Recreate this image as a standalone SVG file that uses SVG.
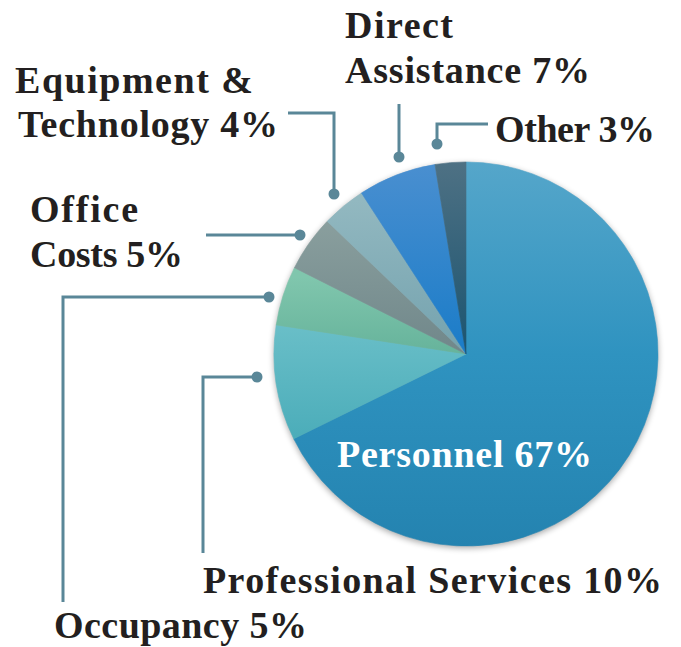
<svg xmlns="http://www.w3.org/2000/svg" width="681" height="647" viewBox="0 0 681 647">
<defs>
<filter id="shadow" x="-20%" y="-20%" width="140%" height="140%">
<feGaussianBlur stdDeviation="3"/>
</filter>
<linearGradient id="gPers" gradientUnits="userSpaceOnUse" x1="0" y1="162" x2="0" y2="546"><stop offset="0" stop-color="#55a6ca"/><stop offset="0.5" stop-color="#2f93c0"/><stop offset="1" stop-color="#2483b0"/></linearGradient>
<linearGradient id="gProf" gradientUnits="userSpaceOnUse" x1="0" y1="162" x2="0" y2="546"><stop offset="0.4" stop-color="#6cc0c9"/><stop offset="0.75" stop-color="#48abb8"/></linearGradient>
<linearGradient id="gOcc" gradientUnits="userSpaceOnUse" x1="0" y1="162" x2="0" y2="546"><stop offset="0.3" stop-color="#80c6ad"/><stop offset="0.5" stop-color="#66b39b"/></linearGradient>
<linearGradient id="gOff" gradientUnits="userSpaceOnUse" x1="0" y1="162" x2="0" y2="546"><stop offset="0.15" stop-color="#8a9f9e"/><stop offset="0.5" stop-color="#70878a"/></linearGradient>
<linearGradient id="gEq" gradientUnits="userSpaceOnUse" x1="0" y1="162" x2="0" y2="546"><stop offset="0.1" stop-color="#92b8c0"/><stop offset="0.5" stop-color="#74a2ae"/></linearGradient>
<linearGradient id="gDir" gradientUnits="userSpaceOnUse" x1="0" y1="162" x2="0" y2="546"><stop offset="0" stop-color="#4a8fd0"/><stop offset="0.5" stop-color="#1a7cc8"/></linearGradient>
<linearGradient id="gOth" gradientUnits="userSpaceOnUse" x1="0" y1="162" x2="0" y2="546"><stop offset="0" stop-color="#4e7184"/><stop offset="0.5" stop-color="#1b5470"/></linearGradient>
</defs>
<style>
.lbl{font-family:"Liberation Serif","DejaVu Serif",serif;font-weight:bold;font-size:38px;fill:#231f20;}
.in{fill:#ffffff;}
.lead{fill:none;stroke:#5a8798;stroke-width:3;}
.dot{fill:#5a8798;}
</style>
<rect width="681" height="647" fill="#ffffff"/>
<circle cx="466" cy="356" r="192" fill="#000" opacity="0.35" filter="url(#shadow)"/>
<g id="pie">
<g id="personnel">
<path d="M466,354 L466,162 A192,192 0 1,1 293.72,438.77 Z" fill="url(#gPers)" stroke="url(#gPers)" stroke-width="0.6"/>
<text class="lbl in" x="337" y="467" textLength="255" lengthAdjust="spacing">Personnel 67%</text>
</g>
<g id="professional-services">
<path d="M466,354 L293.72,438.77 A192,192 0 0,1 276.21,324.95 Z" fill="url(#gProf)" stroke="url(#gProf)" stroke-width="0.6"/>
</g>
<g id="occupancy">
<path d="M466,354 L276.21,324.95 A192,192 0 0,1 294.47,267.73 Z" fill="url(#gOcc)" stroke="url(#gOcc)" stroke-width="0.6"/>
</g>
<g id="office-costs">
<path d="M466,354 L294.47,267.73 A192,192 0 0,1 327.18,221.35 Z" fill="url(#gOff)" stroke="url(#gOff)" stroke-width="0.6"/>
</g>
<g id="equipment">
<path d="M466,354 L327.18,221.35 A192,192 0 0,1 361.43,192.97 Z" fill="url(#gEq)" stroke="url(#gEq)" stroke-width="0.6"/>
</g>
<g id="direct-assistance">
<path d="M466,354 L361.43,192.97 A192,192 0 0,1 434.97,164.51 Z" fill="url(#gDir)" stroke="url(#gDir)" stroke-width="0.6"/>
</g>
<g id="other">
<path d="M466,354 L434.97,164.51 A192,192 0 0,1 466,162 Z" fill="url(#gOth)" stroke="url(#gOth)" stroke-width="0.6"/>
</g>
</g>
<g id="connectors">
<path class="lead" d="M488,124 H437 V144"/><circle class="dot" cx="437" cy="144" r="5.5"/>
<path class="lead" d="M399,104 V157"/><circle class="dot" cx="399" cy="157" r="5.5"/>
<path class="lead" d="M288,113 H334 V194"/><circle class="dot" cx="334" cy="194" r="5.5"/>
<path class="lead" d="M206,235 H300"/><circle class="dot" cx="300" cy="235" r="5.5"/>
<path class="lead" d="M63,602 V297 H269"/><circle class="dot" cx="269" cy="297" r="5.5"/>
<path class="lead" d="M203,553 V377 H257"/><circle class="dot" cx="257" cy="377" r="5.5"/>
</g>
<g id="labels">
<g id="label-equipment">
<text class="lbl" x="15" y="93" textLength="238" lengthAdjust="spacing">Equipment &amp;</text>
<text class="lbl" x="18" y="137" textLength="260" lengthAdjust="spacing">Technology 4%</text>
</g>
<g id="label-office">
<text class="lbl" x="30" y="222" textLength="108" lengthAdjust="spacing">Office</text>
<text class="lbl" x="30" y="267" textLength="153" lengthAdjust="spacing">Costs 5%</text>
</g>
<g id="label-direct">
<text class="lbl" x="345" y="38" textLength="108" lengthAdjust="spacing">Direct</text>
<text class="lbl" x="345" y="83" textLength="245" lengthAdjust="spacing">Assistance 7%</text>
</g>
<g id="label-other">
<text class="lbl" x="495" y="142" textLength="160" lengthAdjust="spacing">Other 3%</text>
</g>
<g id="label-professional">
<text class="lbl" x="203" y="593" textLength="459" lengthAdjust="spacing">Professional Services 10%</text>
</g>
<g id="label-occupancy">
<text class="lbl" x="54" y="638" textLength="253" lengthAdjust="spacing">Occupancy 5%</text>
</g>
</g>
</svg>
